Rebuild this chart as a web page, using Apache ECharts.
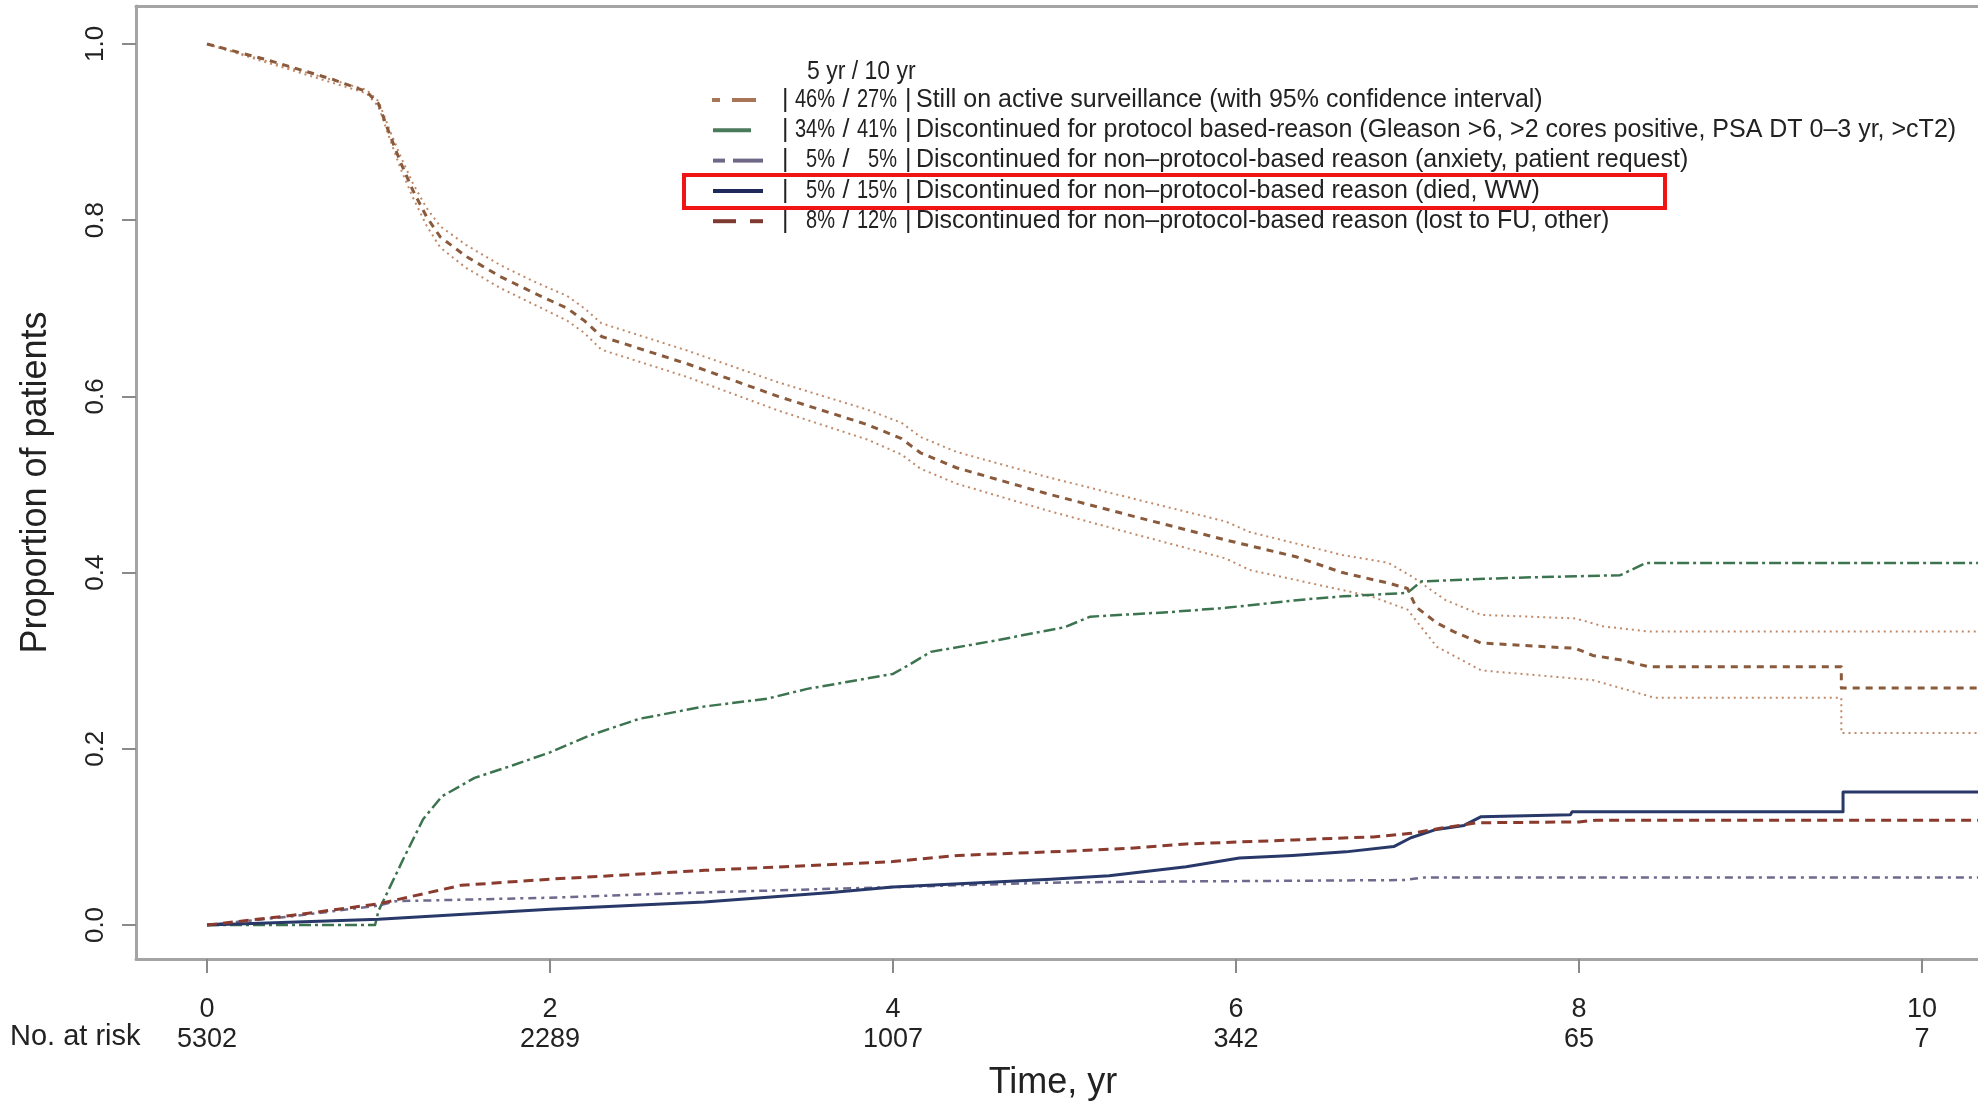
<!DOCTYPE html>
<html><head><meta charset="utf-8">
<script src="https://cdn.jsdelivr.net/npm/echarts@6/dist/echarts.min.js"></script>
<style>html,body{margin:0;padding:0;background:#fff}#c{width:1978px;height:1104px}</style>
</head><body><div id="c"></div>
<script>
// ---- data ----
const xTicks = [0, 2, 4, 6, 8, 10];
const yTicks = [0, 0.2, 0.4, 0.6, 0.8, 1.0];
const atRisk = [5302, 2289, 1007, 342, 65, 7];

const stillAS = [[0,1.0],[0.35,0.982],[0.73,0.96],[0.93,0.946],[1.0,0.932],[1.07,0.895],[1.13,0.865],[1.2,0.834],[1.28,0.804],[1.36,0.781],[1.51,0.759],[1.71,0.736],[1.9,0.718],[2.1,0.70],[2.2,0.686],[2.3,0.668],[2.8,0.637],[3.33,0.60],[3.85,0.568],[4.05,0.552],[4.16,0.536],[4.37,0.519],[4.89,0.49],[5.42,0.463],[5.94,0.437],[6.35,0.418],[6.62,0.40],[6.89,0.388],[7.0,0.382],[7.05,0.361],[7.17,0.343],[7.27,0.333],[7.43,0.32],[7.98,0.314],[8.08,0.306],[8.24,0.301],[8.41,0.293],[9.53,0.293],[9.53,0.269],[10.7,0.269]];
const stillASUpper = [[0,1.0],[0.93,0.948],[1.0,0.935],[1.07,0.90],[1.13,0.872],[1.2,0.842],[1.28,0.814],[1.36,0.793],[1.51,0.772],[1.71,0.749],[1.9,0.731],[2.1,0.714],[2.2,0.70],[2.3,0.683],[2.8,0.652],[3.33,0.616],[3.85,0.585],[4.05,0.570],[4.16,0.554],[4.37,0.537],[4.89,0.509],[5.42,0.483],[5.94,0.458],[6.08,0.446],[6.62,0.42],[6.89,0.411],[7.03,0.395],[7.22,0.369],[7.43,0.352],[7.98,0.348],[8.14,0.339],[8.41,0.333],[10.7,0.333]];
const stillASLower = [[0,1.0],[0.93,0.944],[1.0,0.929],[1.07,0.89],[1.13,0.858],[1.2,0.826],[1.28,0.794],[1.36,0.769],[1.51,0.746],[1.71,0.723],[1.9,0.705],[2.1,0.686],[2.2,0.672],[2.3,0.653],[2.8,0.622],[3.33,0.584],[3.85,0.551],[4.05,0.534],[4.16,0.518],[4.37,0.501],[4.89,0.471],[5.42,0.443],[5.94,0.416],[6.08,0.403],[6.79,0.373],[7.0,0.358],[7.17,0.316],[7.43,0.289],[8.08,0.278],[8.44,0.258],[9.53,0.258],[9.53,0.218],[10.7,0.218]];
const protocolBased = [[0,0],[0.98,0],[1.0,0.016],[1.15,0.077],[1.26,0.12],[1.37,0.146],[1.56,0.167],[1.78,0.181],[2.0,0.196],[2.23,0.215],[2.52,0.234],[2.9,0.248],[3.27,0.257],[3.5,0.268],[4.0,0.285],[4.1,0.296],[4.22,0.31],[4.6,0.323],[5.0,0.338],[5.15,0.35],[5.6,0.355],[5.94,0.36],[6.37,0.369],[6.62,0.373],[7.0,0.377],[7.08,0.39],[7.6,0.394],[8.24,0.397],[8.39,0.411],[10.7,0.411]];
const anxietyRequest = [[0,0],[0.5,0.01],[1.0,0.022],[1.1,0.027],[2.0,0.031],[2.9,0.037],[4.0,0.043],[4.92,0.048],[5.37,0.049],[6.98,0.051],[7.1,0.054],[10.7,0.054]];
const diedWW = [[0,0],[1.0,0.0065],[2.0,0.018],[2.9,0.026],[3.64,0.037],[4.0,0.043],[4.92,0.052],[5.26,0.056],[5.71,0.066],[6.02,0.076],[6.33,0.079],[6.64,0.083],[6.92,0.089],[7.02,0.099],[7.16,0.108],[7.33,0.113],[7.43,0.123],[7.95,0.125],[7.96,0.1285],[9.54,0.1285],[9.54,0.151],[10.7,0.151]];
const lostFU = [[0,0],[0.5,0.011],[1.0,0.024],[1.48,0.045],[2.0,0.052],[2.9,0.062],[4.0,0.072],[4.38,0.079],[4.92,0.083],[5.37,0.087],[5.71,0.092],[6.33,0.0965],[6.8,0.1],[7.02,0.104],[7.2,0.11],[7.4,0.116],[8.0,0.117],[8.1,0.119],[10.7,0.119]];

const legendHeader = '5 yr / 10 yr';
const legend5yr = ['46%', '34%', '5%', '5%', '8%'];
const legend10yr = ['27%', '41%', '5%', '15%', '12%'];
const legendLabels = [
  'Still on active surveillance (with 95% confidence interval)',
  'Discontinued for protocol based-reason (Gleason >6, >2 cores positive, PSA DT 0\u20133 yr, >cT2)',
  'Discontinued for non\u2013protocol-based reason (anxiety, patient request)',
  'Discontinued for non\u2013protocol-based reason (died, WW)',
  'Discontinued for non\u2013protocol-based reason (lost to FU, other)'
];

// ---- styles ----
const FONT = '"Liberation Sans", Arial, sans-serif';
const C_AS = '#8a5a3c', C_CI = '#c08a68', C_PR = '#3d7450', C_AX = '#6d6a8e', C_DW = '#283868', C_LF = '#8b3a2e';
const BOX = '#a4a4a4';

const chart = echarts.init(document.getElementById('c'), null, {renderer: 'canvas'});

const xMin = -0.414, xMax = 10.327, yMin = -0.0386, yMax = 1.0431;

function line(name, data, color, type, width, z) {
  return {type: 'line', name, data, showSymbol: false, symbol: 'none', animation: false, z: z || 2,
    lineStyle: {color, type, width, cap: 'butt', join: 'round'}, emphasis: {disabled: true}};
}

// legend graphics
const rowY = [100, 130.3, 160.6, 190.9, 221.2];
const symSegs = [
  [[712, 720], [732, 756]],
  [[713, 751]],
  [[713, 725], [733, 763]],
  [[713, 763]],
  [[713, 736], [750, 763]]
];
const symColors = ['#a87656', '#4a7a5a', '#6e6886', '#1f2a5a', '#7e3a30'];
const LF = '25px ' + FONT;
const g = [];
function txt(x, y, text, align, sx, font) {
  return {type: 'text', x, y, scaleX: sx || 1, originX: 0, originY: 0,
    style: {x: 0, y: 0, text, font: font || LF, fill: '#222', align, verticalAlign: 'middle'}};
}
g.push(txt(807, 72, legendHeader, 'left', 0.92));
for (let i = 0; i < 5; i++) {
  const y = rowY[i];
  symSegs[i].forEach(s => g.push({type: 'line', shape: {x1: s[0], y1: y, x2: s[1], y2: y}, style: {stroke: symColors[i], lineWidth: 4}}));
  g.push(txt(782, y, '|', 'left'));
  g.push(txt(835, y, legend5yr[i], 'right', 0.8));
  g.push(txt(846, y, '/', 'center'));
  g.push(txt(897, y, legend10yr[i], 'right', 0.8));
  g.push(txt(905, y, '|', 'left'));
  g.push(txt(916, y, legendLabels[i], 'left'));
}
g.push({type: 'rect', shape: {x: 684, y: 175, width: 981, height: 33}, style: {fill: 'none', stroke: '#f01414', lineWidth: 4}});
g.push(txt(10, 1037, 'No. at risk', 'left', 1, '29px ' + FONT));
g.push(txt(1053, 1083, 'Time, yr', 'center', 1, '36px ' + FONT));

chart.setOption({
  backgroundColor: '#fff',
  animation: false,
  grid: {left: 136, top: 6, right: 0, bottom: 145},
  xAxis: [{
    type: 'value', min: xMin, max: xMax, position: 'bottom',
    axisLine: {show: true, onZero: false, lineStyle: {color: BOX, width: 3}}, splitLine: {show: false},
    axisTick: {show: true, customValues: xTicks, length: 14, lineStyle: {color: '#8a8a8a', width: 2}},
    axisLabel: {customValues: xTicks, margin: 37, fontSize: 27, fontFamily: FONT, color: '#222'}
  }, {
    type: 'value', min: xMin, max: xMax, position: 'bottom',
    axisLine: {show: false, onZero: false}, splitLine: {show: false}, axisTick: {show: false},
    axisLabel: {customValues: xTicks, margin: 67, fontSize: 27, fontFamily: FONT, color: '#222',
      formatter: v => String(atRisk[xTicks.indexOf(Math.round(v))])}
  }, {
    type: 'value', min: xMin, max: xMax, position: 'top',
    axisLine: {show: true, onZero: false, lineStyle: {color: BOX, width: 3}}, splitLine: {show: false},
    axisTick: {show: false}, axisLabel: {show: false}
  }],
  yAxis: {
    type: 'value', min: yMin, max: yMax,
    name: 'Proportion of patients', nameLocation: 'middle', nameGap: 82,
    nameTextStyle: {fontSize: 36, fontFamily: FONT, color: '#222'},
    axisLine: {show: true, onZero: false, lineStyle: {color: BOX, width: 3}}, splitLine: {show: false},
    axisTick: {show: true, customValues: yTicks, length: 14, lineStyle: {color: '#8a8a8a', width: 2}},
    axisLabel: {customValues: yTicks, rotate: 90, margin: 27, fontSize: 26, fontFamily: FONT, color: '#222',
      formatter: v => v.toFixed(1)}
  },
  series: [
    line('upper 95% CI', stillASUpper, C_CI, [2, 4], 2, 1),
    line('lower 95% CI', stillASLower, C_CI, [2, 4], 2, 1),
    line(legendLabels[0], stillAS, C_AS, [7, 6], 3, 3),
    line(legendLabels[1], protocolBased, C_PR, [12, 4, 3, 4], 2.5, 2),
    line(legendLabels[2], anxietyRequest, C_AX, [3, 5, 8, 5], 2.5, 2),
    line(legendLabels[3], diedWW, C_DW, 'solid', 3, 2),
    line(legendLabels[4], lostFU, C_LF, [10, 6], 3, 2)
  ],
  graphic: g
});
</script></body></html>
